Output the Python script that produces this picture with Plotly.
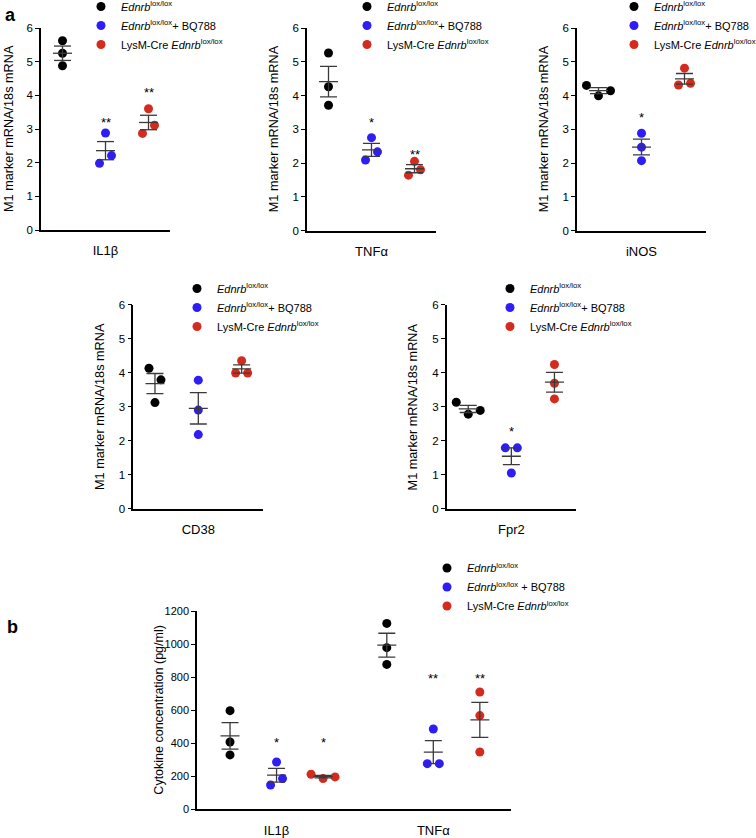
import numpy as np
import plotly.graph_objects as go

# ---------------- data ----------------
group_names = ["Ednrb lox/lox", "Ednrb lox/lox + BQ788", "LysM-Cre Ednrb lox/lox"]
legend_labels_a = ["<i>Ednrb</i><sup>lox/lox</sup>",
                   "<i>Ednrb</i><sup>lox/lox</sup>+ BQ788",
                   "LysM-Cre <i>Ednrb</i><sup>lox/lox</sup>"]
legend_labels_b = ["<i>Ednrb</i><sup>lox/lox</sup>",
                   "<i>Ednrb</i><sup>lox/lox</sup> + BQ788",
                   "LysM-Cre <i>Ednrb</i><sup>lox/lox</sup>"]

# panel a: M1 marker mRNA / 18s mRNA (replicates in recorded order)
il1b_ctrl = [5.62, 5.25, 4.88]
il1b_bq = [2.88, 1.98, 2.21]
il1b_cre = [3.60, 2.87, 3.11]

tnfa_ctrl = [5.26, 4.26, 3.71]
tnfa_bq = [2.75, 2.09, 2.33]
tnfa_cre = [2.05, 1.64, 1.80]

inos_ctrl = [4.30, 3.99, 4.14]
inos_bq = [2.88, 2.47, 2.07]
inos_cre = [4.81, 4.31, 4.36]

cd38_ctrl = [3.12, 4.13, 3.79]
cd38_bq = [3.78, 2.90, 2.18]
cd38_cre = [4.35, 3.99, 3.99]

fpr2_ctrl = [3.13, 2.78, 2.89]
fpr2_bq = [1.79, 1.79, 1.05]
fpr2_cre = [4.24, 3.69, 3.23]

# panel b: cytokine concentration (pg/ml)
cyto_il1b_ctrl = [597, 407, 329]
cyto_il1b_bq = [286, 147, 186]
cyto_il1b_cre = [212, 186, 196]
cyto_tnfa_ctrl = [1125, 978, 877]
cyto_tnfa_bq = [486, 276, 276]
cyto_tnfa_cre = [710, 567, 347]

marker_names = ["IL1β", "TNFα", "iNOS", "CD38", "Fpr2"]
cytokine_names = ["IL1β", "TNFα"]

# significance: (group index, label, level in data units)
sig_il1b = [(1, "**", 3.27), (2, "**", 4.16)]
sig_tnfa = [(1, "*", 3.28), (2, "**", 2.34)]
sig_inos = [(1, "*", 3.43)]
sig_cd38 = []
sig_fpr2 = [(1, "*", 2.36)]
sig_cyto_il1b = [(1, "*", 424), (2, "*", 424)]
sig_cyto_tnfa = [(1, "**", 810), (2, "**", 810)]

y_title_a = "M1 marker mRNA/18s mRNA"
y_title_b = "Cytokine concentration (pg/ml)"

# ---------------- style / layout ----------------
W, H = 756, 838
FONT = "Liberation Sans, Arial, Helvetica, sans-serif"
COLORS = ["#000000", "#2e1ef5", "#d42b1f"]
EB_COLOR = "#3a3a3a"
MSIZE = 9
SPREAD_PX = 12      # horizontal spacing of overlapping dots
COLLIDE_PX = 12     # vertical distance under which dots share a row
MEAN_HALF_PX = 9.5
CAP_HALF_PX = 8.5
LEG_FONT = 11
LEG_DX = 20
LEG_DY = 33.5

fig = go.Figure()


def px2fx(px):
    return px / W


def px2fy(py):
    return 1 - py / H


def spread_x(values, center, ppu_x, ppu_y):
    n = len(values)
    order = sorted(range(n), key=lambda i: (values[i], i))
    rows = []
    for i in order:
        if rows and (values[i] - values[rows[-1][0]]) * ppu_y < COLLIDE_PX:
            rows[-1].append(i)
        else:
            rows.append([i])
    xs = [center] * n
    for row in rows:
        row = sorted(row)
        m = len(row)
        for k, i in enumerate(row):
            xs[i] = center + (k - (m - 1) / 2) * SPREAD_PX / ppu_x
    return xs


def add_panel(k, box, xrange, yrange, dtick, categories, cat_centers, groups_data,
              centers, sigs, legend_labels, legend_marker, tickfont, ytitle, ytitle_off,
              ytitle_size):
    x0, x1, ytop, ybot = box
    xa = "x" if k == 1 else f"x{k}"
    ya = "y" if k == 1 else f"y{k}"
    lg = "legend" if k == 1 else f"legend{k}"
    ppu_x = (x1 - x0) / (xrange[1] - xrange[0])
    ppu_y = (ybot - ytop) / (yrange[1] - yrange[0])

    # dots
    for gi in range(3):
        vals_all, xs_all = [], []
        for ci, gdata in enumerate(groups_data):
            vals = gdata[gi]
            c = centers[ci][gi]
            xs_all += spread_x(vals, c, ppu_x, ppu_y)
            vals_all += list(vals)
        fig.add_trace(go.Scatter(
            x=xs_all, y=vals_all, mode="markers", xaxis=xa, yaxis=ya,
            marker=dict(size=MSIZE, color=COLORS[gi], line=dict(width=0)),
            name=legend_labels[gi], legend=lg, showlegend=True,
            hoverinfo="y"))
    # mean +- SEM
    ex, ey = [], []
    for ci, gdata in enumerate(groups_data):
        for gi in range(3):
            v = np.array(gdata[gi], dtype=float)
            m = v.mean()
            s = v.std(ddof=1) / np.sqrt(len(v))
            c = centers[ci][gi]
            hm = MEAN_HALF_PX / ppu_x
            hc = CAP_HALF_PX / ppu_x
            ex += [c - hm, c + hm, None, c, c, None, c - hc, c + hc, None, c - hc, c + hc, None]
            ey += [m, m, None, m - s, m + s, None, m + s, m + s, None, m - s, m - s, None]
    fig.add_trace(go.Scatter(x=ex, y=ey, mode="lines", xaxis=xa, yaxis=ya,
                             line=dict(color=EB_COLOR, width=1.3),
                             showlegend=False, hoverinfo="skip"))
    # significance marks
    for ci, sl in enumerate(sigs):
        for gi, lab, lvl in sl:
            fig.add_annotation(x=centers[ci][gi], y=lvl, xref=xa, yref=ya, text=lab,
                               showarrow=False, yshift=-3,
                               font=dict(family=FONT, size=13, color="#000"))
    # axes + legend
    fig.update_layout(**{
        ("xaxis" if k == 1 else f"xaxis{k}"): dict(
            domain=[px2fx(x0), px2fx(x1)], range=xrange, anchor=ya,
            showline=True, linecolor="#000", linewidth=1.5, ticks="",
            tickvals=cat_centers, ticktext=categories, showgrid=False, zeroline=False,
            tickfont=dict(family=FONT, size=13, color="#000"), ticklabelstandoff=8,
            fixedrange=True),
        ("yaxis" if k == 1 else f"yaxis{k}"): dict(
            domain=[px2fy(ybot), px2fy(ytop)], range=yrange, anchor=xa, dtick=dtick,
            showline=True, linecolor="#000", linewidth=1.5, ticks="outside",
            ticklen=4, tickwidth=1.3, tickcolor="#000", showgrid=False, zeroline=False,
            tickfont=dict(family=FONT, size=tickfont, color="#000"), fixedrange=True),
        lg: dict(x=px2fx(legend_marker[0] - LEG_DX), y=px2fy(legend_marker[1] - LEG_DY),
                 xanchor="left", yanchor="top", bgcolor="rgba(0,0,0,0)", borderwidth=0,
                 font=dict(family=FONT, size=LEG_FONT, color="#000"), traceorder="normal"),
    })
    # y title
    fig.add_annotation(x=px2fx(x0 - ytitle_off), y=px2fy((ytop + ybot) / 2),
                       xref="paper", yref="paper", text=ytitle,
                       textangle=-90, showarrow=False, xanchor="center", yanchor="middle",
                       font=dict(family=FONT, size=ytitle_size, color="#000"))


top_centers = [[0, 1, 2]]

add_panel(1, (41, 170, 28, 230), [-0.5, 2.5], [0, 6], 1, [marker_names[0]], [1],
          [[il1b_ctrl, il1b_bq, il1b_cre]], top_centers, [sig_il1b], legend_labels_a,
          (101, 25.5), 11.5, y_title_a, 32, 12.7)
add_panel(2, (307, 436, 28, 230.5), [-0.5, 2.5], [0, 6], 1, [marker_names[1]], [1],
          [[tnfa_ctrl, tnfa_bq, tnfa_cre]], top_centers, [sig_tnfa], legend_labels_a,
          (367, 25.5), 11.5, y_title_a, 33, 12.7)
add_panel(3, (577, 706, 28, 230.5), [-0.5, 2.5], [0, 6], 1, [marker_names[2]], [1],
          [[inos_ctrl, inos_bq, inos_cre]], top_centers, [sig_inos], legend_labels_a,
          (634, 25.5), 11.5, y_title_a, 33, 12.7)
add_panel(4, (133.3, 263.3, 304.7, 508.7), [-0.5, 2.5], [0, 6], 1, [marker_names[3]], [1],
          [[cd38_ctrl, cd38_bq, cd38_cre]], top_centers, [sig_cd38], legend_labels_a,
          (197, 307.5), 11.5, y_title_a, 34, 12.7)
add_panel(5, (446.7, 576, 304.7, 508.7), [-0.5, 2.5], [0, 6], 1, [marker_names[4]], [1],
          [[fpr2_ctrl, fpr2_bq, fpr2_cre]], top_centers, [sig_fpr2], legend_labels_a,
          (510, 307.5), 11.5, y_title_a, 34, 12.7)

GAP = 3.37
b_centers = [[0, 1, 2], [GAP, GAP + 1, GAP + 2]]
add_panel(6, (197, 511, 611, 809.3), [-0.71, GAP + 2.67], [0, 1200], 200, cytokine_names,
          [1, GAP + 1],
          [[cyto_il1b_ctrl, cyto_il1b_bq, cyto_il1b_cre],
           [cyto_tnfa_ctrl, cyto_tnfa_bq, cyto_tnfa_cre]],
          b_centers, [sig_cyto_il1b, sig_cyto_tnfa], legend_labels_b,
          (447, 587), 11, y_title_b, 37.5, 12.5)

# panel letters
fig.add_annotation(x=px2fx(10), y=px2fy(15), xref="paper", yref="paper", text="<b>a</b>",
                   showarrow=False, xanchor="center", yanchor="middle",
                   font=dict(family=FONT, size=18, color="#000"))
fig.add_annotation(x=px2fx(12), y=px2fy(627), xref="paper", yref="paper", text="<b>b</b>",
                   showarrow=False, xanchor="center", yanchor="middle",
                   font=dict(family=FONT, size=18, color="#000"))

fig.update_layout(width=W, height=H, margin=dict(l=0, r=0, t=0, b=0, autoexpand=False),
                  paper_bgcolor="white", plot_bgcolor="rgba(0,0,0,0)",
                  font=dict(family=FONT, color="#000"), hovermode="closest")

# the page's default body margin would push the figure 8 px off the window origin
fig.write_html("out.html", config={"displayModeBar": False},
               post_script="document.body.style.margin='0px';document.body.style.overflow='hidden';")
